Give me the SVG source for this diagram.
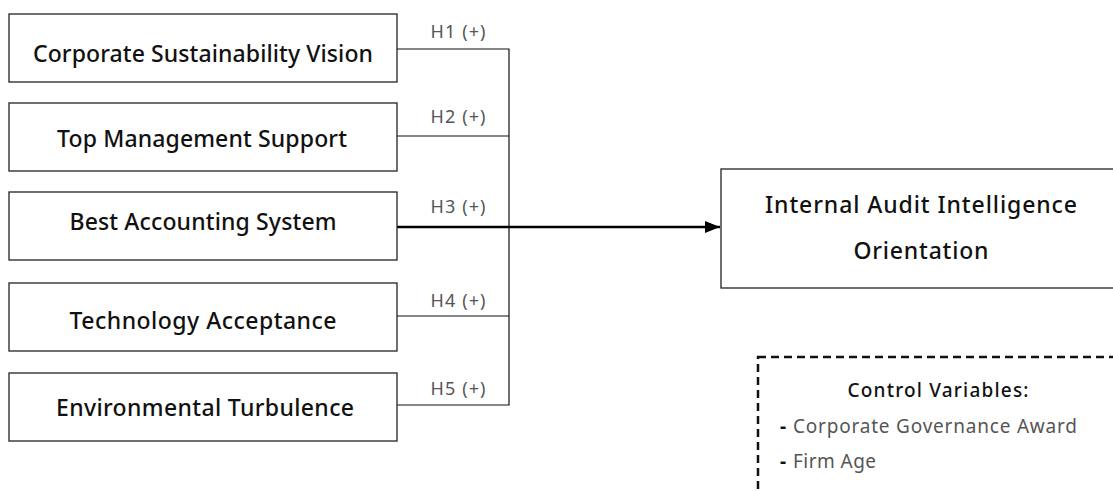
<svg xmlns="http://www.w3.org/2000/svg" width="1113" height="491" viewBox="0 0 1113 491">
<defs>
<style>
.box{fill:#fff;stroke:#222;stroke-width:1.3}
.t{font-family:"Noto Sans",sans-serif;font-size:23px;font-weight:500;fill:#111;text-anchor:middle}
.h{font-family:"Noto Sans",sans-serif;font-size:18px;fill:#555;text-anchor:middle}
.c{font-family:"Noto Sans",sans-serif;font-size:19px;fill:#555}
.ln{stroke:#111;stroke-width:1.2;fill:none}
</style>
<marker id="arr" markerWidth="15" markerHeight="12" refX="15" refY="6" orient="auto" markerUnits="userSpaceOnUse" viewBox="0 0 15 12">
<path d="M0,0 L15,6 L0,12 z" fill="#000"/>
</marker>
</defs>
<rect width="1113" height="491" fill="#fff"/>
<g id="connectors">
<path class="ln" d="M397,49 H509 V405 H397"/>
<path class="ln" d="M397,136 H509"/>
<path class="ln" d="M397,316 H509"/>
<line x1="397" y1="227" x2="720" y2="227" stroke="#000" stroke-width="2.5" marker-end="url(#arr)"/>
<text class="h" x="458" y="38" textLength="55">H1 (+)</text>
<text class="h" x="458" y="123" textLength="55">H2 (+)</text>
<text class="h" x="458" y="213" textLength="55">H3 (+)</text>
<text class="h" x="458" y="307" textLength="55">H4 (+)</text>
<text class="h" x="458" y="395" textLength="55">H5 (+)</text>
</g>
<g id="n1"><rect class="box" x="9" y="14" width="388" height="68"/><text class="t" x="203" y="62" textLength="340">Corporate Sustainability Vision</text></g>
<g id="n2"><rect class="box" x="9" y="103" width="388" height="68"/><text class="t" x="202" y="147" textLength="290">Top Management Support</text></g>
<g id="n3"><rect class="box" x="9" y="192" width="388" height="68"/><text class="t" x="203" y="230" textLength="267">Best Accounting System</text></g>
<g id="n4"><rect class="box" x="9" y="283" width="388" height="68"/><text class="t" x="203" y="329" textLength="267">Technology Acceptance</text></g>
<g id="n5"><rect class="box" x="9" y="373" width="388" height="68"/><text class="t" x="205" y="416" textLength="298">Environmental Turbulence</text></g>
<g id="target"><rect class="box" x="721" y="169" width="400" height="119"/><text class="t" x="921" y="213" textLength="312">Internal Audit Intelligence</text><text class="t" x="921" y="259" textLength="135">Orientation</text></g>
<g id="controls">
<rect x="758" y="357" width="400" height="160" fill="none" stroke="#111" stroke-width="2.5" stroke-dasharray="8,5"/>
<text class="c" x="938" y="397" text-anchor="middle" textLength="181" style="fill:#111;font-weight:500">Control Variables:</text>
<text class="c" x="780" y="433"><tspan fill="#111" font-weight="bold">-</tspan></text>
<text class="c" x="793" y="433" textLength="284">Corporate Governance Award</text>
<text class="c" x="780" y="468"><tspan fill="#111" font-weight="bold">-</tspan></text>
<text class="c" x="793" y="468" textLength="83">Firm Age</text>
</g>
</svg>
